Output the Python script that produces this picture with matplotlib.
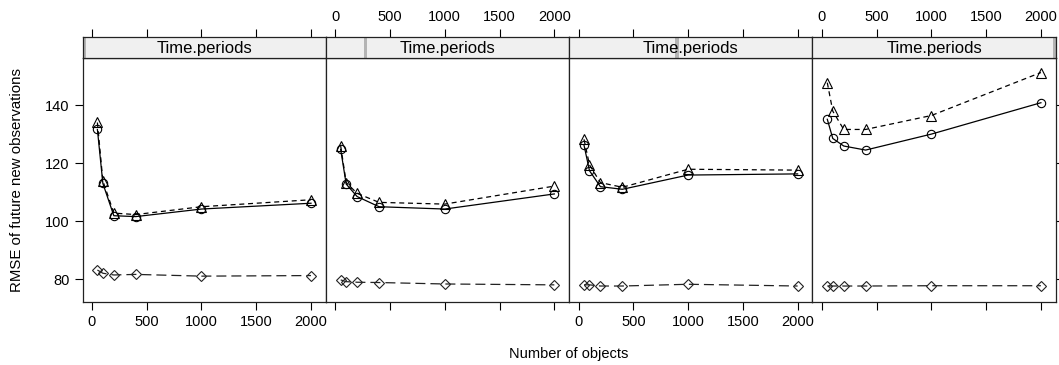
import matplotlib.pyplot as plt
from matplotlib.patches import Rectangle

plt.rcParams['font.family'] = ['Liberation Sans', 'DejaVu Sans']
plt.rcParams['font.size'] = 10.5

# data
n_objects = [50, 100, 200, 400, 1000, 2000]

circle_vals = [
    [131.6, 113.0, 101.9, 101.6, 104.2, 106.2],
    [124.7, 112.8, 108.5, 105.0, 104.2, 109.4],
    [126.2, 117.4, 111.9, 111.0, 115.9, 116.3],
    [135.1, 128.5, 125.9, 124.5, 130.0, 140.8],
]
triangle_vals = [
    [134.0, 113.9, 102.8, 102.3, 105.0, 107.4],
    [125.9, 113.3, 109.6, 106.5, 105.9, 112.1],
    [128.2, 119.4, 113.3, 111.7, 117.9, 117.6],
    [147.7, 137.9, 131.6, 131.6, 136.4, 151.2],
]
diamond_vals = [
    [83.2, 82.1, 81.5, 81.7, 81.1, 81.3],
    [79.8, 79.2, 79.0, 78.9, 78.4, 78.1],
    [78.1, 78.1, 77.7, 77.7, 78.3, 77.7],
    [77.7, 77.7, 77.7, 77.7, 77.8, 77.8],
]
strip_label = "Time.periods"
strip_marks = [0.0, 0.155, 0.436, 0.988]  # level indicator position in strip

x_ticks = [0, 500, 1000, 1500, 2000]
y_ticks = [80, 100, 120, 140]

W, H = 1059, 365
fig = plt.figure(figsize=(W / 100, H / 100), dpi=100)

left_px = 82.5
panel_w = 243.3
bottom = (H - 301.7) / H
top = (H - 58) / H
strip_top = (H - 37.3) / H

for i in range(4):
    x0 = (left_px + i * panel_w) / W
    ax = fig.add_axes([x0, bottom, panel_w / W, top - bottom])
    sx = fig.add_axes([x0, top, panel_w / W, strip_top - top], sharex=ax)

    ax.plot(n_objects, circle_vals[i], color='black', lw=0.9, ls='-',
            marker='o', ms=6, mfc='none', mew=0.8)
    ax.plot(n_objects, triangle_vals[i], color='black', lw=0.9, ls=(0, (4, 3)),
            marker='^', ms=7, mfc='none', mew=0.8)
    ax.plot(n_objects, diamond_vals[i], color='#222222', lw=0.9, ls=(0, (8, 4)),
            marker='D', ms=5.5, mfc='none', mew=0.8)

    ax.set_xlim(-86, 2135)
    ax.set_ylim(72.3, 156.2)
    ax.set_xticks(x_ticks)
    ax.set_yticks(y_ticks)
    ax.tick_params(direction='out', length=6, width=0.8, colors='black')
    ax.tick_params(axis='x', bottom=True, labelbottom=(i % 2 == 0), top=False)
    ax.tick_params(axis='y', left=(i == 0), labelleft=(i == 0),
                   right=(i == 3), labelright=False)
    for sp in ax.spines.values():
        sp.set_linewidth(0.9)
        sp.set_color('#222222')

    # strip
    sx.set_facecolor('#f0f0f0')
    sx.set_ylim(0, 1)
    sx.add_patch(Rectangle((strip_marks[i], 0), 0.014, 1, transform=sx.transAxes,
                           color='#b4b4b4', lw=0))
    sx.text(0.5, 0.45, strip_label, transform=sx.transAxes, ha='center',
            va='center', fontsize=12)
    sx.set_yticks([])
    sx.tick_params(axis='x', direction='out', length=6, width=0.8,
                   bottom=False, labelbottom=False, top=True,
                   labeltop=(i % 2 == 1))
    for sp in sx.spines.values():
        sp.set_linewidth(0.9)
        sp.set_color('#222222')

fig.text(17 / W, (H - 180) / H, "RMSE of future new observations",
         rotation=90, ha='center', va='center', fontsize=10.8)
fig.text(569 / W, (H - 354) / H, "Number of objects", ha='center',
         va='center', fontsize=10.5)

fig.savefig('out.png', dpi=100)
